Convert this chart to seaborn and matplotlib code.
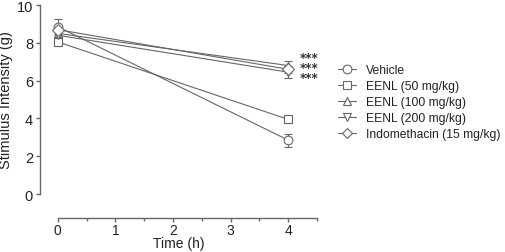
import numpy as np
import pandas as pd
import matplotlib
matplotlib.use("Agg")
import matplotlib.pyplot as plt
import seaborn as sns
from matplotlib.lines import Line2D

groups = ["Vehicle", "EENL (50 mg/kg)", "EENL (100 mg/kg)", "EENL (200 mg/kg)", "Indomethacin (15 mg/kg)"]
times = [0, 4]
vehicle = [8.85, 2.85]
eenl50 = [8.05, 3.95]
eenl100 = [8.5, 6.8]
eenl200 = [8.4, 6.45]
indo = [8.7, 6.6]
vehicle_err = [0.4, 0.35]
eenl50_err = [0.2, 0.2]
eenl100_err = [0.2, 0.25]
eenl200_err = [0.2, 0.3]
indo_err = [0.15, 0.2]
star_labels = ["***", "***", "***"]
star_y_center = 6.7

series = [vehicle, eenl50, eenl100, eenl200, indo]
errs = [vehicle_err, eenl50_err, eenl100_err, eenl200_err, indo_err]
markers = ["o", "s", "^", "v", "D"]

rows = []
for g, vals, es in zip(groups, series, errs):
    for t, v, e in zip(times, vals, es):
        rows.append({"group": g, "time": t, "value": v, "err": e})
df = pd.DataFrame(rows)

sns.set_theme(style="ticks")
plt.rcParams["font.family"] = ["Liberation Sans", "DejaVu Sans"]
col = "#666666"
tcol = "#222222"

fig = plt.figure(figsize=(5.05, 2.53), dpi=100)
ax = fig.add_axes([0.0792, 0.2292, 0.6277 - 0.0792, 0.976 - 0.2292])

for g in groups:
    d = df[df.group == g]
    ax.errorbar(d.time, d.value, yerr=d.err, fmt="none", ecolor=col, elinewidth=0.8,
                capsize=3, capthick=0.8, zorder=2)

sns.lineplot(data=df, x="time", y="value", hue="group", style="group",
             markers=dict(zip(groups, markers)), dashes=False,
             palette=[col] * 5, linewidth=0.8, ax=ax, legend=False,
             markerfacecolor="white", markeredgecolor=col, markeredgewidth=0.8,
             markersize=6.3, zorder=3)

ax.text(4.2, star_y_center, "\n".join(star_labels), fontsize=8.5, color="#333333",
        va="center", ha="left", linespacing=0.72, family="DejaVu Sans", fontweight="bold")

ax.set_xlim(-0.31, 4.5)
ax.set_ylim(0, 10)
ax.set_xticks([0, 1, 2, 3, 4])
ax.set_xticks([0.5, 1.5, 2.5, 3.5, 4.5], minor=True)
ax.set_yticks([0, 2, 4, 6, 8, 10])
ax.spines["top"].set_visible(False)
ax.spines["right"].set_visible(False)
ax.spines["bottom"].set_position(("outward", 17))
ax.spines["bottom"].set_bounds(0, 4.5)
ax.spines["left"].set_bounds(0, 10)
for s in ["left", "bottom"]:
    ax.spines[s].set_color(col)
    ax.spines[s].set_linewidth(1.0)
ax.tick_params(axis="both", which="major", length=3, width=1.0, color=col, labelsize=10.5,
               labelcolor=tcol, pad=2)
ax.tick_params(axis="x", which="major", pad=1, labelsize=10)
ax.tick_params(axis="x", which="minor", length=2, width=1.0, color=col)
ax.set_xlabel("Time (h)", fontsize=10, color=tcol, va="center")
ax.xaxis.set_label_coords(0.5, -0.26)
ax.set_ylabel("Stimulus Intensity (g)", fontsize=10.5, color=tcol, labelpad=3)

handles = [Line2D([0], [0], color=col, lw=0.8, marker=m, markersize=6.3 if m != "D" else 5.5,
                  markerfacecolor="white", markeredgecolor=col, markeredgewidth=0.8)
           for m in markers]
fig.legend(handles, groups, loc="upper left", bbox_to_anchor=(0.66, 0.763),
           frameon=False, fontsize=8.7, handlelength=1.5, handletextpad=0.8,
           labelspacing=0.33, borderaxespad=0, labelcolor=tcol)

fig.savefig("out.png", dpi=100)
